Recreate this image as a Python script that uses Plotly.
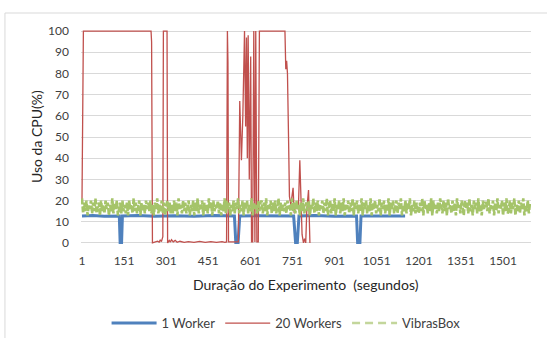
import plotly.graph_objects as go

# ---- data ----
x_ticks = [1, 151, 301, 451, 601, 751, 901, 1051, 1201, 1351, 1501]
y_ticks = [0, 10, 20, 30, 40, 50, 60, 70, 80, 90, 100]

worker1_x = [1, 40, 80, 134, 137, 142, 145, 200, 260, 330, 400, 470, 544, 549, 557, 563,
             620, 690, 755, 762, 768, 774, 830, 900, 979, 983, 991, 995, 1060, 1120, 1152]
worker1_y = [12.7, 12.9, 12.6, 12.7, 0, 0, 12.7, 12.9, 12.6, 12.8, 12.6, 12.9, 12.7, 0, 0, 12.7,
             12.8, 12.6, 12.7, 0, 0, 12.7, 12.9, 12.6, 12.7, 0, 0, 12.7, 12.8, 12.6, 12.7]

workers20_x = [1, 3, 6, 247, 249, 252, 262, 265, 270, 276, 280, 284, 287, 289, 291, 304, 306,
               312, 316, 320, 326, 333, 340, 350, 365, 380, 400, 420, 440, 460, 480, 500, 510,
               516, 519, 521, 523, 540, 558, 563, 569, 574, 580, 584, 587, 590, 593, 597, 602,
               605, 609, 613, 617, 620, 624, 629, 633, 724, 727, 730, 733, 737, 740, 745, 753,
               757, 762, 768, 772, 777, 781, 785, 790, 794, 798, 802, 808, 811, 813]
workers20_y = [19, 60, 100, 100, 95, 0, 0.5, 0.3, 0.8, 0.4, 1.5, 0.6, 2.5, 3, 100, 100, 0,
               1.2, 0.4, 1.5, 0.5, 1.2, 0.3, 0.8, 0.3, 0.6, 0.3, 0.7, 0.3, 0.6, 0.3, 0.6, 0.3,
               0.5, 100, 85, 0.5, 0.6, 0.5, 67, 39, 60, 100, 55, 97, 40, 98, 30, 88,
               0.5, 0.5, 100, 0.5, 100, 0.5, 0.5, 100, 100, 82, 86, 80, 48, 22, 18, 26,
               14, 18, 16, 17, 39, 18, 4, 0, 2, 0, 16, 25, 0, 0]

vibras_x = list(range(1, 1600, 4))
vibras_y = [
    21, 14, 19, 15, 20, 13, 18, 16, 20, 14, 19, 15, 21, 14, 17, 19, 13, 20, 15, 18,
    14, 20, 16, 19, 13, 18, 15, 21, 14, 19, 16, 20, 13, 17, 19, 14, 20, 15, 18, 14,
    19, 13, 20, 16, 18, 14, 21, 15, 19, 14, 17, 20, 13, 19, 15, 18, 14, 20, 16, 19,
    15, 20, 14, 18, 13, 19, 16, 21, 14, 18, 15, 20, 14, 19, 13, 17, 20, 15, 19, 14,
    18, 14, 20, 15, 19, 13, 21, 16, 18, 14, 20, 15, 19, 14, 17, 20, 13, 18, 15, 20,
    13, 19, 15, 21, 14, 18, 16, 20, 13, 19, 15, 18, 14, 21, 16, 19, 13, 20, 15, 18,
    16, 20, 14, 19, 13, 18, 15, 21, 14, 20, 16, 19, 13, 18, 15, 20, 14, 19, 16, 21,
    14, 18, 15, 20, 13, 19, 16, 20, 14, 18, 15, 21, 13, 19, 16, 18, 14, 20, 15, 19,
    20, 14, 19, 15, 21, 13, 18, 16, 20, 14, 19, 15, 20, 14, 17, 21, 13, 19, 15, 18,
    15, 19, 14, 20, 16, 18, 13, 21, 15, 19, 14, 20, 16, 18, 13, 19, 15, 21, 14, 18,
    19, 15, 20, 13, 18, 16, 21, 14, 19, 15, 20, 13, 18, 16, 20, 14, 19, 15, 21, 13,
    17, 20, 14, 19, 15, 21, 13, 18, 16, 20, 14, 19, 15, 21, 13, 18, 16, 20, 14, 19,
    15, 21, 13, 19, 16, 20, 14, 18, 15, 21, 13, 19, 16, 20, 14, 18, 15, 21, 13, 19,
    16, 20, 14, 18, 15, 21, 13, 19, 16, 20, 14, 18, 15, 21, 13, 19, 16, 20, 14, 18,
    20, 14, 19, 16, 21, 13, 18, 15, 20, 14, 19, 16, 21, 13, 18, 15, 20, 14, 19, 16,
    14, 19, 15, 21, 13, 20, 16, 18, 14, 19, 15, 21, 13, 20, 16, 18, 14, 19, 15, 21,
    18, 14, 20, 15, 19, 13, 21, 16, 18, 14, 20, 15, 19, 13, 21, 16, 18, 14, 20, 15,
    13, 20, 16, 19, 14, 21, 15, 18, 13, 20, 16, 19, 14, 21, 15, 18, 13, 20, 16, 19,
    19, 15, 21, 14, 18, 16, 20, 13, 19, 15, 21, 14, 18, 16, 20, 13, 19, 15, 21, 14,
    15, 20, 14, 19, 16, 21, 13, 18, 15, 20, 14, 19, 16, 21, 13, 18, 15, 20, 14, 19,
]

FONT = "Lato"
TXT = "#404040"
GREEN = "#a5c46a"

fig = go.Figure()
fig.add_trace(go.Scatter(x=worker1_x, y=worker1_y, mode="lines", name="1 Worker",
                         line=dict(color="#4f81bd", width=3)))
fig.add_trace(go.Scatter(x=workers20_x, y=workers20_y, mode="lines", name="20 Workers",
                         line=dict(color="#c0504d", width=1.3)))
fig.add_trace(go.Scatter(x=vibras_x, y=vibras_y, mode="lines", name="VibrasBox",
                         showlegend=False,
                         line=dict(color=GREEN, width=2.6, dash="6px,2px")))
# legend entry for VibrasBox (long dashes as in the reference legend)
fig.add_trace(go.Scatter(x=[None], y=[None], mode="lines", name="VibrasBox",
                         line=dict(color="#c3d69b", width=2.5, dash="8px,5px")))

fig.update_layout(
    width=547, height=338,
    margin=dict(l=81, r=16, t=30, b=94),
    paper_bgcolor="white", plot_bgcolor="white",
    font=dict(family=FONT, size=12, color=TXT),
    showlegend=True,
    legend=dict(orientation="h", xref="container", yref="container",
                x=0.523, y=0.044, xanchor="center", yanchor="middle",
                itemwidth=45,
                font=dict(family=FONT, size=13, color=TXT), bgcolor="rgba(0,0,0,0)"),
    xaxis=dict(range=[-2.5, 1600.5], tickvals=x_ticks, ticktext=[str(v) for v in x_ticks],
               showgrid=False, zeroline=False, showline=False, ticks="",
               ticklabelstandoff=8, tickfont=dict(family=FONT, size=12, color=TXT)),
    yaxis=dict(range=[-0.5, 100.5], tickvals=y_ticks, showgrid=True, gridcolor="#d9d9d9",
               gridwidth=1, zeroline=False, showline=False, ticks="",
               ticklabelstandoff=11, tickfont=dict(family=FONT, size=12, color=TXT)),
    shapes=[dict(type="rect", xref="paper", yref="paper", x0=-0.169, x1=1.2, y0=-0.7, y1=1.0794,
                 line=dict(color="#d9d9d9", width=1), fillcolor="rgba(0,0,0,0)", layer="below")],
    annotations=[
        dict(text="Duração do Experimento  (segundos)", xref="paper", yref="paper",
             x=0.5, y=-0.187, xanchor="center", yanchor="middle", showarrow=False,
             font=dict(family=FONT, size=14, color="#262626")),
        dict(text="Uso da CPU(%)", xref="paper", yref="paper", x=-0.1, y=0.5,
             xanchor="center", yanchor="middle", textangle=-90, showarrow=False,
             font=dict(family=FONT, size=14, color="#262626")),
    ],
)

fig.write_html("out.html", config={"displayModeBar": False},
               post_script="document.body.style.margin='0';")
